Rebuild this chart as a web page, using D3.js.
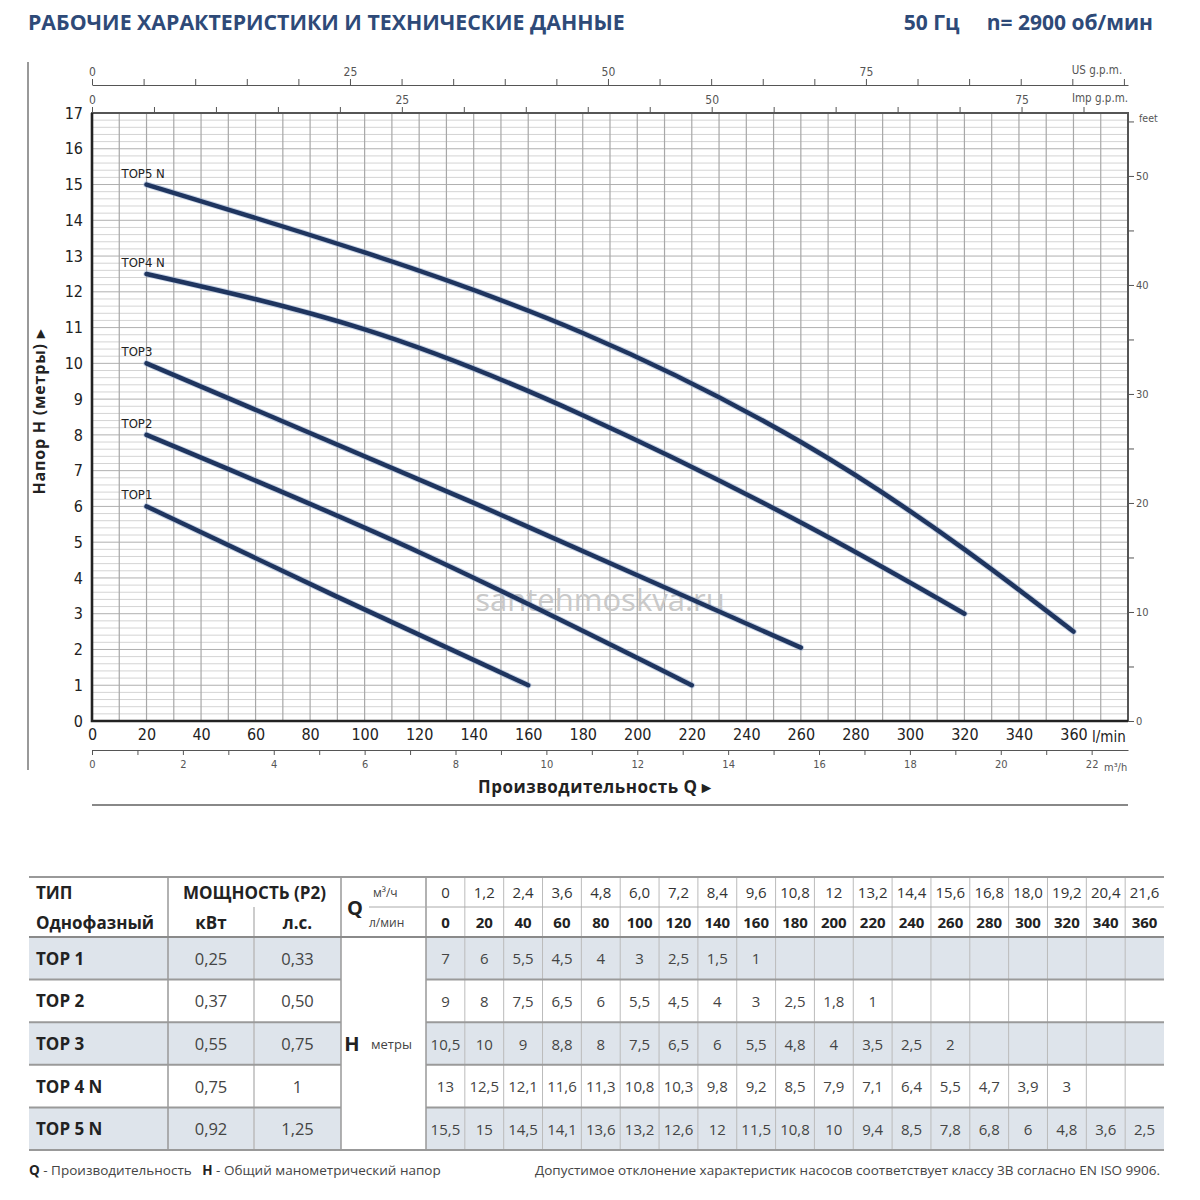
<!DOCTYPE html>
<html>
<head>
<meta charset="utf-8">
<script src="https://cdn.jsdelivr.net/npm/d3@7"></script>
<style>
  body { margin: 0; background: #fff; }
  svg { display: block; }
  .num { font-family: "Liberation Sans Narrow", "DejaVu Sans Condensed", sans-serif; }
  .txt { font-family: "Open Sans", "Noto Sans", sans-serif; }
</style>
</head>
<body>
<div id="chart"></div>
<script>
// flow points (l/min) and matching m3/h labels, as in the table
const flowLmin = [0, 20, 40, 60, 80, 100, 120, 140, 160, 180, 200, 220, 240, 260, 280, 300, 320, 340, 360];
const flowM3h = ["0", "1,2", "2,4", "3,6", "4,8", "6,0", "7,2", "8,4", "9,6", "10,8", "12", "13,2", "14,4", "15,6", "16,8", "18,0", "19,2", "20,4", "21,6"];

// pump models
const models = ["TOP 1", "TOP 2", "TOP 3", "TOP 4 N", "TOP 5 N"];
const curveNames = ["TOP1", "TOP2", "TOP3", "TOP4 N", "TOP5 N"];
const powerKw = ["0,25", "0,37", "0,55", "0,75", "0,92"];
const powerHp = ["0,33", "0,50", "0,75", "1", "1,25"];

// table: head H (m) per flow point
const headTop1 = [7, 6, 5.5, 4.5, 4, 3, 2.5, 1.5, 1];
const headTop2 = [9, 8, 7.5, 6.5, 6, 5.5, 4.5, 4, 3, 2.5, 1.8, 1];
const headTop3 = [10.5, 10, 9, 8.8, 8, 7.5, 6.5, 6, 5.5, 4.8, 4, 3.5, 2.5, 2];
const headTop4 = [13, 12.5, 12.1, 11.6, 11.3, 10.8, 10.3, 9.8, 9.2, 8.5, 7.9, 7.1, 6.4, 5.5, 4.7, 3.9, 3];
const headTop5 = [15.5, 15, 14.5, 14.1, 13.6, 13.2, 12.6, 12, 11.5, 10.8, 10, 9.4, 8.5, 7.8, 6.8, 6, 4.8, 3.6, 2.5];
const heads = [headTop1, headTop2, headTop3, headTop4, headTop5];

// curves (Q l/min, H m)
const curveQ1 = [20, 90, 160];
const curveH1 = [6.0, 3.47, 1.0];
const curveQ2 = [20, 120, 220];
const curveH2 = [8.0, 4.72, 1.0];
const curveQ3 = [20, 140, 260];
const curveH3 = [10.0, 6.1, 2.05];
const curveQ4 = [20, 100, 180, 260, 320];
const curveH4 = [12.5, 10.95, 8.55, 5.55, 3.0];
const curveQ5 = [20, 100, 180, 260, 320, 360];
const curveH5 = [15.0, 13.1, 10.85, 7.8, 4.8, 2.5];
const curveQs = [curveQ1, curveQ2, curveQ3, curveQ4, curveQ5];
const curveHs = [curveH1, curveH2, curveH3, curveH4, curveH5];

// axis ticks
const headTicks = d3.range(0, 18);
const feetTicks = d3.range(0, 56, 5);
const usTicks = d3.range(0, 101, 5);
const impTicks = d3.range(0, 81, 5);
const m3hTicks = d3.range(0, 23);

const WIDTH = 1200;
const HEIGHT = 1200;
const TITLE_COLOR = '#2e4a78';
const fmt = v => String(v).replace('.', ',');

const svg = d3.select('#chart')
    .append('svg')
    .attr('width', WIDTH)
    .attr('height', HEIGHT);

// scales
const x = d3.scaleLinear().domain([0, 380]).range([92, 1128]);
const y = d3.scaleLinear().domain([0, 17]).range([721, 113]);
const yFeet = d3.scaleLinear().domain([0, 17 / 0.3048]).range([721, 113]);
const xUs = d3.scaleLinear().domain([0, 380 / 3.785]).range([92, 1128]);
const xImp = d3.scaleLinear().domain([0, 380 / 4.546]).range([92, 1128]);
const xM3 = d3.scaleLinear().domain([0, 380 * 0.06]).range([92, 1128]);

// titles
svg.append('text').attr('class', 'txt')
    .attr('x', 28).attr('y', 30)
    .attr('font-size', 21.3).attr('font-weight', 700)
    .attr('fill', TITLE_COLOR)
    .text('РАБОЧИЕ ХАРАКТЕРИСТИКИ И ТЕХНИЧЕСКИЕ ДАННЫЕ');

svg.append('text').attr('class', 'txt')
    .attr('x', 1153).attr('y', 30)
    .attr('text-anchor', 'end')
    .attr('font-size', 21).attr('font-weight', 700)
    .attr('fill', TITLE_COLOR)
    .attr('xml:space', 'preserve')
    .text('50 Гц     n= 2900 об/мин');

// frame lines around the chart area
svg.append('line').attr('x1', 28).attr('x2', 28).attr('y1', 62).attr('y2', 770)
    .attr('stroke', '#999').attr('stroke-width', 2);
svg.append('line').attr('x1', 92).attr('x2', 1128).attr('y1', 805).attr('y2', 805)
    .attr('stroke', '#888').attr('stroke-width', 2);

// grid
const grid = svg.append('g');
grid.selectAll('.hminor')
    .data(d3.range(0, 86).map(i => i / 5))
    .enter()
    .append('line')
    .attr('x1', x(0)).attr('x2', x(380))
    .attr('y1', d => y(d)).attr('y2', d => y(d))
    .attr('stroke', d => Number.isInteger(d) ? '#b0b0b0' : '#d4d4d4')
    .attr('stroke-width', 1);

grid.selectAll('.vline')
    .data(d3.range(0, 381, 10))
    .enter()
    .append('line')
    .attr('x1', d => x(d)).attr('x2', d => x(d))
    .attr('y1', y(0)).attr('y2', y(17))
    .attr('stroke', '#a8a8a8')
    .attr('stroke-width', 1.2);

// watermark
svg.append('text').attr('class', 'txt')
    .attr('x', 600).attr('y', 611)
    .attr('text-anchor', 'middle')
    .attr('font-size', 31)
    .attr('fill', '#c9c9c9')
    .text('santehmoskva.ru');

// plot border
svg.append('rect')
    .attr('x', x(0)).attr('y', y(17))
    .attr('width', x(380) - x(0)).attr('height', y(0) - y(17))
    .attr('fill', 'none').attr('stroke', '#555').attr('stroke-width', 2);
svg.append('path')
    .attr('d', `M${x(0)},${y(17)}V${y(0)}H${x(380)}`)
    .attr('fill', 'none').attr('stroke', '#222').attr('stroke-width', 2.6);

// curves
const line = d3.line()
    .x(d => x(d[0]))
    .y(d => y(d[1]))
    .curve(d3.curveNatural);

const series = curveQs.map((qs, i) => ({
    name: curveNames[i],
    points: qs.map((q, j) => [q, curveHs[i][j]])
}));

svg.selectAll('.halo')
    .data(series)
    .enter()
    .append('path')
    .attr('d', d => line(d.points))
    .attr('fill', 'none')
    .attr('stroke', '#8fa8d0')
    .attr('stroke-width', 6.4)
    .attr('stroke-opacity', 0.5)
    .attr('stroke-linecap', 'round');

svg.selectAll('.curve')
    .data(series)
    .enter()
    .append('path')
    .attr('d', d => line(d.points))
    .attr('fill', 'none')
    .attr('stroke', '#1f355f')
    .attr('stroke-width', 4.5)
    .attr('stroke-linecap', 'round');

svg.selectAll('.clabel')
    .data(series)
    .enter()
    .append('text')
    .attr('class', 'num')
    .attr('x', d => x(d.points[0][0]) - 25)
    .attr('y', d => y(d.points[0][1]) - 7)
    .attr('font-size', 13)
    .attr('fill', '#222')
    .text(d => d.name);

// axes
function styleAxis(g, size, color) {
    g.selectAll('text').attr('class', 'num').attr('font-size', size).attr('fill', color);
    g.selectAll('line').attr('stroke', '#555');
    g.select('.domain').attr('stroke', '#555');
}

svg.append('g')
    .attr('transform', `translate(${x(0)},0)`)
    .call(d3.axisLeft(y).tickValues(headTicks).tickSize(0).tickPadding(9))
    .call(g => g.select('.domain').remove())
    .call(g => styleAxis(g, 16, '#222'));

svg.append('g')
    .attr('transform', `translate(0,${y(0)})`)
    .call(d3.axisBottom(x).tickValues(flowLmin).tickSize(0).tickPadding(8))
    .call(g => g.select('.domain').remove())
    .call(g => styleAxis(g, 16, '#222'));

svg.append('text').attr('class', 'num')
    .attr('x', 1092).attr('y', 742)
    .attr('font-size', 15).attr('fill', '#222')
    .text('l/min');

svg.append('g')
    .attr('transform', 'translate(0,750)')
    .call(d3.axisBottom(xM3).tickValues(m3hTicks).tickSize(5).tickSizeOuter(0).tickPadding(5)
        .tickFormat(d => d % 2 === 0 ? d : ''))
    .call(g => styleAxis(g, 11, '#555'));

svg.append('text').attr('class', 'num')
    .attr('x', 1104).attr('y', 771)
    .attr('font-size', 11).attr('fill', '#555')
    .text('m³/h');

svg.append('g')
    .attr('transform', `translate(${x(380)},0)`)
    .call(d3.axisRight(yFeet).tickValues(feetTicks).tickSize(6).tickPadding(2)
        .tickFormat(d => d % 10 === 0 ? d : ''))
    .call(g => g.select('.domain').remove())
    .call(g => styleAxis(g, 11, '#555'));

svg.append('text').attr('class', 'num')
    .attr('x', 1139).attr('y', 122)
    .attr('font-size', 10.5).attr('fill', '#555')
    .text('feet');

svg.append('g')
    .attr('transform', 'translate(0,85)')
    .call(d3.axisTop(xUs).tickValues(usTicks).tickSize(6).tickSizeOuter(0).tickPadding(3)
        .tickFormat(d => d % 25 === 0 && d < 100 ? d : ''))
    .call(g => styleAxis(g, 12, '#555'));

svg.append('text').attr('class', 'num')
    .attr('x', 1097).attr('y', 74)
    .attr('text-anchor', 'middle')
    .attr('font-size', 11.5).attr('fill', '#555')
    .text('US g.p.m.');

svg.append('g')
    .attr('transform', `translate(0,${y(17)})`)
    .call(d3.axisTop(xImp).tickValues(impTicks).tickSize(6).tickPadding(3)
        .tickFormat(d => d % 25 === 0 ? d : ''))
    .call(g => g.select('.domain').remove())
    .call(g => styleAxis(g, 12, '#555'));

svg.append('text').attr('class', 'num')
    .attr('x', 1100).attr('y', 102)
    .attr('text-anchor', 'middle')
    .attr('font-size', 11.5).attr('fill', '#555')
    .text('Imp g.p.m.');

// axis titles
svg.append('text').attr('class', 'txt')
    .attr('transform', 'translate(45,412) rotate(-90)')
    .attr('text-anchor', 'middle')
    .attr('font-size', 16).attr('font-weight', 700)
    .attr('letter-spacing', 0.8)
    .attr('fill', '#222')
    .text('Напор Н (метры) ▸');

svg.append('text').attr('class', 'txt')
    .attr('x', 595).attr('y', 793)
    .attr('text-anchor', 'middle')
    .attr('font-size', 17).attr('font-weight', 700)
    .attr('letter-spacing', 0.5)
    .attr('fill', '#222')
    .text('Производительность Q ▸');

// ---------- table ----------
const T_LEFT = 29, T_RIGHT = 1164;
const C_TYPE = 168, C_KW = 254, C_HP = 341, C_Q = 426;
const COL_W = (T_RIGHT - C_Q) / flowLmin.length;
const Y_TOP = 877, Y_MID = 907, Y_HEAD = 937, ROW_H = 42.6;
const table = svg.append('g').attr('class', 'txt');

// row shading
table.selectAll('.shade')
    .data(models)
    .enter()
    .each(function (d, i) {
        if (i % 2 !== 0) return;
        const g = d3.select(this);
        g.append('rect').attr('x', T_LEFT).attr('y', Y_HEAD + i * ROW_H)
            .attr('width', C_HP - T_LEFT).attr('height', ROW_H).attr('fill', '#dee4eb');
        g.append('rect').attr('x', C_Q).attr('y', Y_HEAD + i * ROW_H)
            .attr('width', T_RIGHT - C_Q).attr('height', ROW_H).attr('fill', '#dee4eb');
    });

function hline(x1, x2, yy, w, c) {
    table.append('line').attr('x1', x1).attr('x2', x2).attr('y1', yy).attr('y2', yy)
        .attr('stroke', c).attr('stroke-width', w);
}
function vline(xx, y1, y2, w, c) {
    table.append('line').attr('x1', xx).attr('x2', xx).attr('y1', y1).attr('y2', y2)
        .attr('stroke', c).attr('stroke-width', w);
}

const Y_BOTTOM = Y_HEAD + models.length * ROW_H;

// vertical lines
vline(C_TYPE, Y_TOP, Y_BOTTOM, 1.5, '#999');
vline(C_KW, Y_MID, Y_BOTTOM, 1.5, '#bbb');
vline(C_HP, Y_TOP, Y_BOTTOM, 1.5, '#999');
flowLmin.forEach((q, i) => {
    if (i === 0) vline(C_Q, Y_TOP, Y_BOTTOM, 1.5, '#999');
    else vline(C_Q + i * COL_W, Y_TOP, Y_BOTTOM, 1, '#bbb');
});

// horizontal lines
hline(T_LEFT, T_RIGHT, Y_TOP, 2, '#999');
hline(369, T_RIGHT, Y_MID, 1, '#aaa');
hline(T_LEFT, T_RIGHT, Y_HEAD, 2, '#8a8a8a');
models.forEach((m, i) => {
    if (i === 0) return;
    const yy = Y_HEAD + i * ROW_H;
    hline(T_LEFT, C_HP, yy, 2, '#9a9a9a');
    hline(C_Q, T_RIGHT, yy, 2, '#9a9a9a');
});
hline(T_LEFT, T_RIGHT, Y_BOTTOM, 2, '#999');

function cell(tx, ty, text, opts) {
    const o = Object.assign({ size: 15, weight: 400, anchor: 'middle', color: '#333' }, opts || {});
    return table.append('text')
        .attr('x', tx).attr('y', ty)
        .attr('dominant-baseline', 'central')
        .attr('text-anchor', o.anchor)
        .attr('font-size', o.size).attr('font-weight', o.weight)
        .attr('fill', o.color)
        .text(text);
}

// header
cell(36, 892, 'ТИП', { anchor: 'start', weight: 700, size: 17, color: '#222' });
cell(36, 922, 'Однофазный', { anchor: 'start', weight: 700, size: 17, color: '#222' });
cell((C_TYPE + C_HP) / 2, 892, 'МОЩНОСТЬ (P2)', { weight: 700, size: 17, color: '#222' });
cell((C_TYPE + C_KW) / 2, 922, 'кВт', { weight: 700, size: 17, color: '#222' });
cell((C_KW + C_HP) / 2, 922, 'л.с.', { weight: 700, size: 17, color: '#222' });
cell(355, 907, 'Q', { weight: 700, size: 20, color: '#222' });
cell(373, 892, 'м³/ч', { anchor: 'start', size: 12, color: '#444' });
cell(369, 922, 'л/мин', { anchor: 'start', size: 12, color: '#444' });
cell(352, Y_HEAD + 2.5 * ROW_H, 'H', { weight: 700, size: 20, color: '#222' });
cell(371, Y_HEAD + 2.5 * ROW_H, 'метры', { anchor: 'start', size: 13, color: '#444' });

flowLmin.forEach((q, i) => {
    const cx = C_Q + (i + 0.5) * COL_W;
    cell(cx, 892, flowM3h[i], { size: 15 });
    cell(cx, 922, q, { size: 15, weight: 700, color: '#222' });
});

// body
models.forEach((m, i) => {
    const cy = Y_HEAD + (i + 0.5) * ROW_H;
    cell(36, cy, m, { anchor: 'start', weight: 700, size: 17, color: '#222' });
    cell((C_TYPE + C_KW) / 2, cy, powerKw[i], { size: 16.5, color: '#444' });
    cell((C_KW + C_HP) / 2, cy, powerHp[i], { size: 16.5, color: '#444' });
    heads[i].forEach((h, j) => {
        cell(C_Q + (j + 0.5) * COL_W, cy, fmt(h), { size: 15, color: '#444' });
    });
});

// footer notes
const note = svg.append('text').attr('class', 'txt')
    .attr('x', 29).attr('y', 1175)
    .attr('font-size', 13.5).attr('fill', '#444')
    .attr('xml:space', 'preserve');
note.append('tspan').attr('font-weight', 700).attr('fill', '#222').text('Q');
note.append('tspan').text(' - Производительность   ');
note.append('tspan').attr('font-weight', 700).attr('fill', '#222').text('H');
note.append('tspan').text(' - Общий манометрический напор');

svg.append('text').attr('class', 'txt')
    .attr('x', 1160).attr('y', 1175)
    .attr('text-anchor', 'end')
    .attr('font-size', 13.5).attr('fill', '#444')
    .text('Допустимое отклонение характеристик насосов соответствует классу 3В согласно EN ISO 9906.');
</script>
</body>
</html>
